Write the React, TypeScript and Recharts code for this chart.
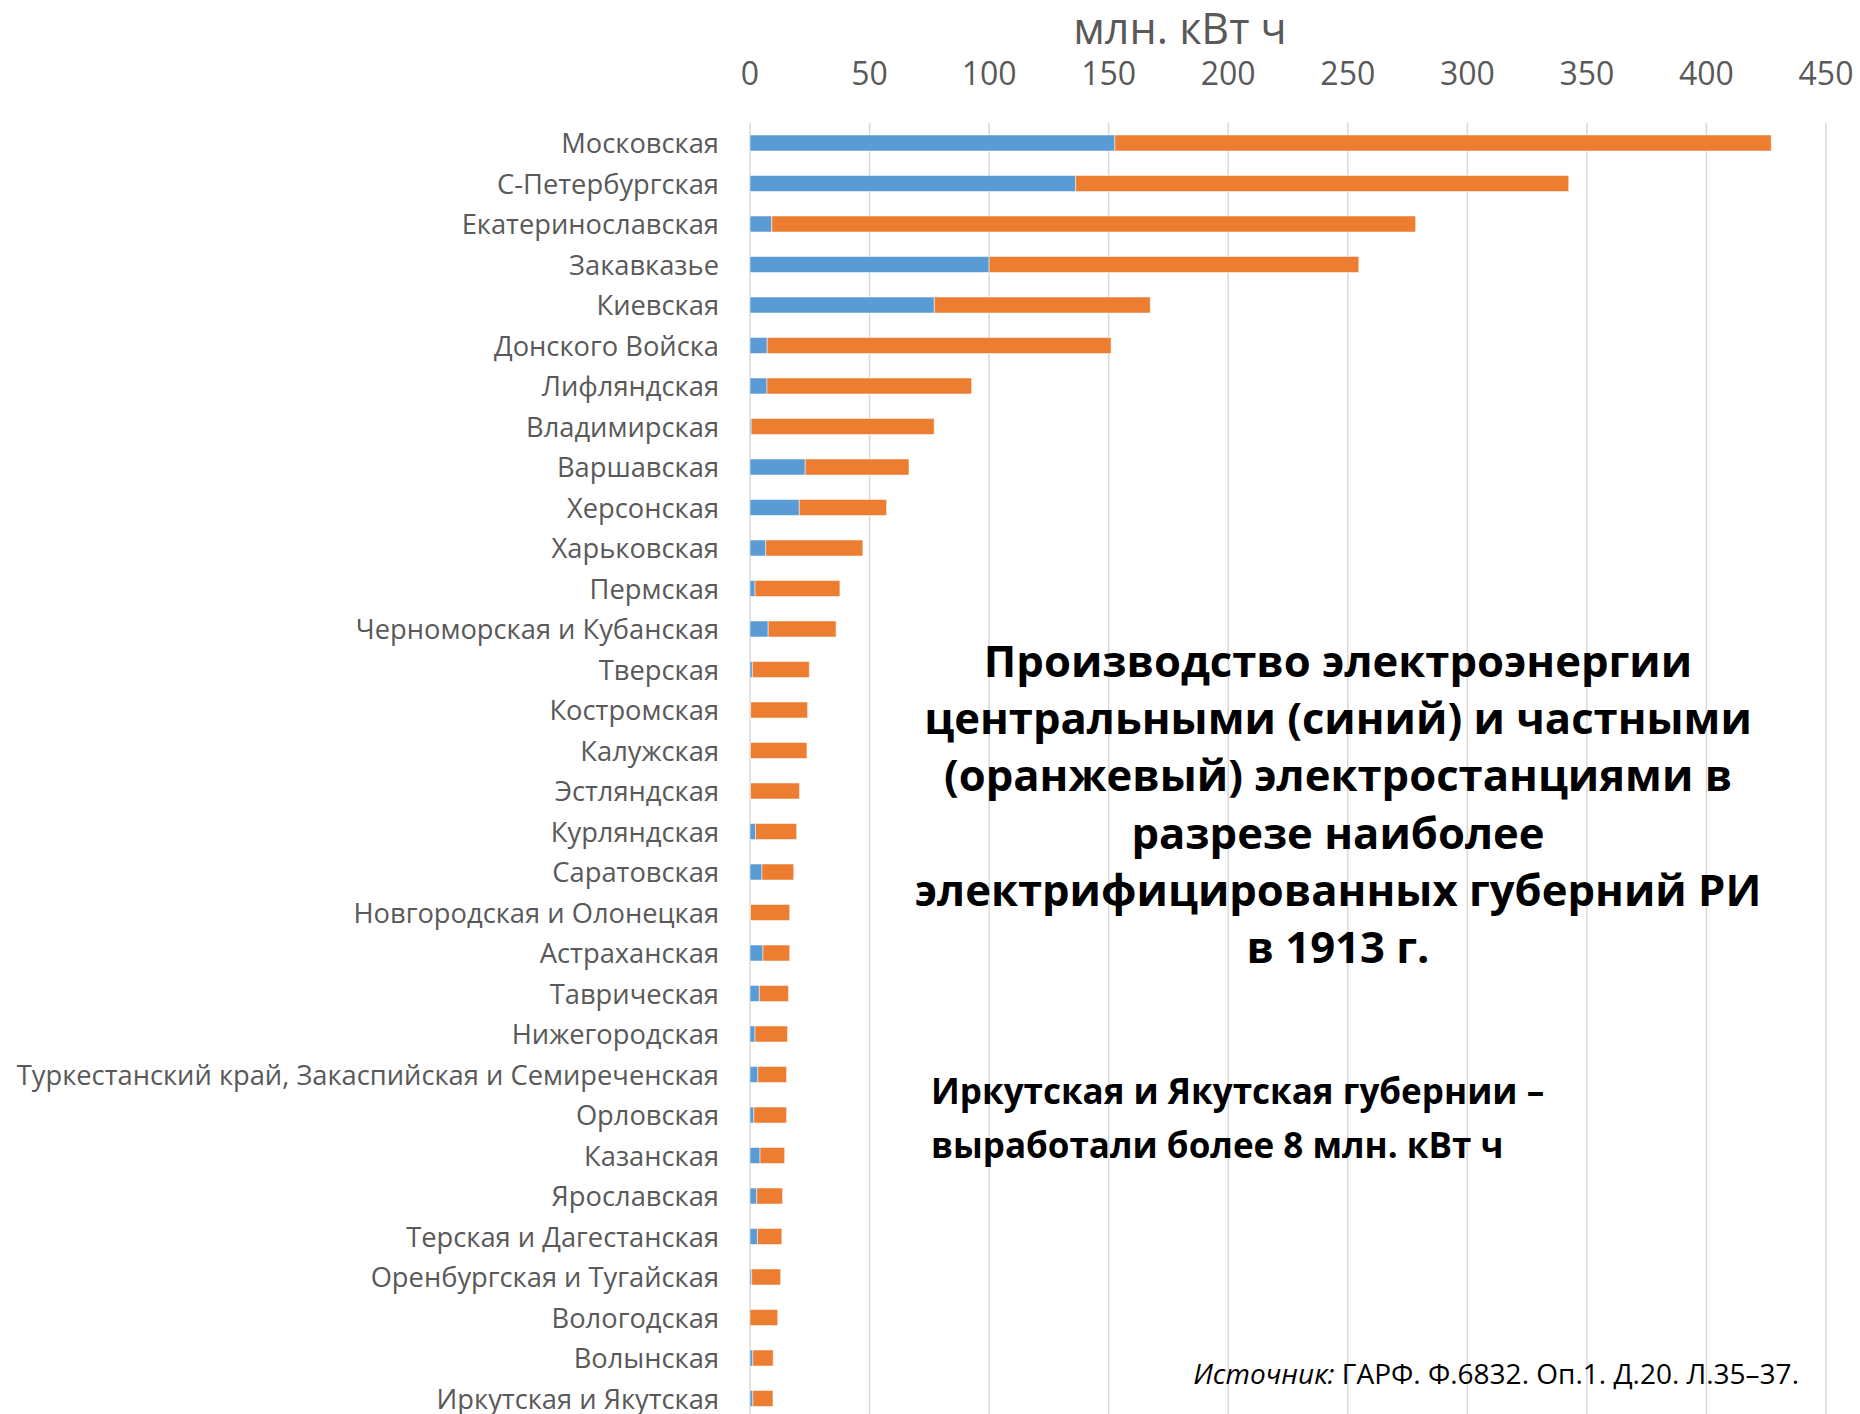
import { BarChart, Bar, XAxis, YAxis, CartesianGrid } from 'recharts';

const regions = [
    'Московская',
    'С-Петербургская',
    'Екатеринославская',
    'Закавказье',
    'Киевская',
    'Донского Войска',
    'Лифляндская',
    'Владимирская',
    'Варшавская',
    'Херсонская',
    'Харьковская',
    'Пермская',
    'Черноморская и Кубанская',
    'Тверская',
    'Костромская',
    'Калужская',
    'Эстляндская',
    'Курляндская',
    'Саратовская',
    'Новгородская и Олонецкая',
    'Астраханская',
    'Таврическая',
    'Нижегородская',
    'Туркестанский край, Закаспийская и Семиреченская',
    'Орловская',
    'Казанская',
    'Ярославская',
    'Терская и Дагестанская',
    'Оренбургская и Тугайская',
    'Вологодская',
    'Волынская',
    'Иркутская и Якутская',
];

// центральные станции (синий)
const centralStations = [
    152.6, 136.2, 9.1, 100, 77.1, 7.2, 7.1, 0.5, 23.1, 20.6, 6.6, 2.1, 7.6, 1.0, 0.3, 0.2,
    0.2, 2.3, 5.0, 0.2, 5.4, 3.9, 2.1, 3.3, 1.6, 4.2, 2.8, 3.1, 0.7, 0, 1.2, 1.2,
];

// частные станции (оранжевый)
const privateStations = [
    274.5, 206.2, 269.3, 154.6, 90.3, 143.8, 85.6, 76.5, 43.4, 36.5, 40.6, 35.5, 28.4, 23.8, 23.8, 23.6,
    20.5, 17.2, 13.3, 16.4, 11.2, 12.2, 13.6, 12.0, 13.7, 10.3, 10.8, 10.2, 12.1, 11.6, 8.5, 8.4,
];

const xTicks = [0, 50, 100, 150, 200, 250, 300, 350, 400, 450];

const data = regions.map((name, i) => ({
    name,
    central: centralStations[i],
    private: privateStations[i],
}));

const RegionTick = ({ x, y, payload }: any) => (
    <text x={x} y={y} dy={10} textAnchor="end" fill="#595959" fontSize={27.3}>
        {payload.value}
    </text>
);

export default function App() {
    return (
        <div
            style={{
                position: 'absolute',
                left: 0,
                top: 0,
                width: 1860,
                height: 1414,
                overflow: 'hidden',
                background: '#fff',
                fontFamily: "'Open Sans', sans-serif",
            }}
        >
            <BarChart
                width={1860}
                height={1420}
                data={data}
                layout="vertical"
                margin={{ top: 83, right: 34, left: 0, bottom: 1 }}
                barSize={16}
            >
                <CartesianGrid horizontal={false} stroke="#d9d9d9" strokeWidth={1.5} />
                <XAxis
                    type="number"
                    orientation="top"
                    domain={[0, 450]}
                    ticks={xTicks}
                    height={40}
                    axisLine={false}
                    tickLine={false}
                    tickSize={0}
                    tickMargin={38}
                    tick={{ fill: '#595959', fontSize: 32 }}
                    interval={0}
                />
                <YAxis
                    type="category"
                    dataKey="name"
                    width={750}
                    axisLine={false}
                    tickLine={false}
                    tickSize={0}
                    tickMargin={31}
                    interval={0}
                    tick={<RegionTick />}
                />
                <Bar dataKey="central" stackId="a" fill="#5b9bd5" stroke="#ffffff" strokeOpacity={0.5} strokeWidth={1} isAnimationActive={false} />
                <Bar dataKey="private" stackId="a" fill="#ed7d31" stroke="#ffffff" strokeOpacity={0.5} strokeWidth={1} isAnimationActive={false} />
            </BarChart>

            <div style={{ position: 'absolute', left: 980, width: 400, top: 3, textAlign: 'center', fontSize: 43, lineHeight: '50px', color: '#595959' }}>
                млн. кВт ч
            </div>

            <div
                style={{
                    position: 'absolute',
                    left: 838,
                    width: 1000,
                    top: 632,
                    textAlign: 'center',
                    fontSize: 43.6,
                    fontWeight: 700,
                    lineHeight: '57.2px',
                    color: '#000',
                }}
            >
                Производство электроэнергии
                <br />
                центральными (синий) и частными
                <br />
                (оранжевый) электростанциями в
                <br />
                разрезе наиболее
                <br />
                электрифицированных губерний РИ
                <br />в 1913 г.
            </div>

            <div
                style={{
                    position: 'absolute',
                    left: 931,
                    top: 1064,
                    fontSize: 35,
                    fontWeight: 700,
                    lineHeight: '54px',
                    color: '#000',
                    whiteSpace: 'nowrap',
                }}
            >
                Иркутская и Якутская губернии –
                <br />
                выработали более 8 млн. кВт ч
            </div>

            <div
                style={{
                    position: 'absolute',
                    right: 61,
                    top: 1355,
                    fontSize: 28,
                    lineHeight: '36px',
                    color: '#000',
                    whiteSpace: 'nowrap',
                }}
            >
                <i>Источник:</i> ГАРФ. Ф.6832. Оп.1. Д.20. Л.35–37.
            </div>
        </div>
    );
}
